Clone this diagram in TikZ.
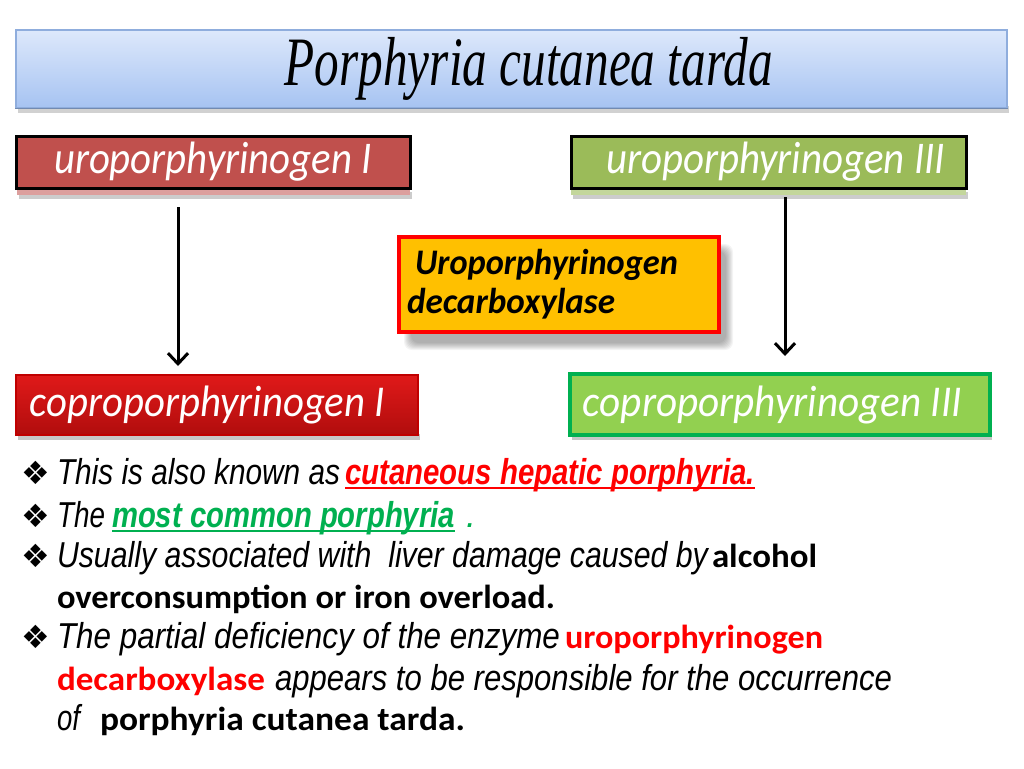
\documentclass[tikz,border=0pt]{standalone}
\usepackage{fontspec}
\usepackage{graphicx}
\usetikzlibrary{arrows.meta,shadows,calc}
\setmainfont{Liberation Sans}
\newfontfamily\carl{Carlito}
\newfontfamily\ars{Liberation Sans}
\newfontfamily\djv{DejaVu Sans}
\newfontfamily\tnr{Liberation Serif}
\definecolor{uroI}{HTML}{C0504D}
\definecolor{uroIII}{HTML}{9BBB59}
\definecolor{enz}{HTML}{FFC000}
\definecolor{brred}{HTML}{FF0000}
\definecolor{cpgreen}{HTML}{92D050}
\definecolor{dkgreen}{HTML}{00B050}
\definecolor{cpred}{HTML}{C00000}
\definecolor{titletop}{HTML}{DDE8FB}
\definecolor{titlebot}{HTML}{A6C3F2}
\definecolor{titleline}{HTML}{8FADDD}
\newcommand\fitw[2]{\resizebox{#1}{\height}{#2}}
\newcommand\bodyf{\ars\itshape\fontsize{27}{30}\selectfont}
\newcommand\bodybf{\ars\bfseries\itshape\fontsize{27}{30}\selectfont}
\newcommand\boldf{\carl\bfseries\fontsize{25}{29}\selectfont}
\begin{document}
\begin{tikzpicture}[x=0.75pt,y=-0.75pt,
  txt/.style={anchor=base west, inner sep=0pt, outer sep=0pt},
  bul/.style={anchor=base west, inner sep=0pt, font=\djv\fontsize{24}{26}\selectfont},
  hbox/.style={draw=black, line width=2.25pt, inner sep=0pt, text=white,
    font=\carl\itshape\fontsize{34}{38}\selectfont},
  cbox/.style={line width=2pt, inner sep=0pt, text=white,
    font=\carl\itshape\fontsize{33}{38}\selectfont},
  flow/.style={line width=2.25pt, -{Straight Barb[length=8pt,width=15pt,line width=2.25pt]}},
  uline/.style={line width=2pt}
]
\useasboundingbox (0,0) rectangle (1024,768);
\fill[white] (0,0) rectangle (1024,768);

% title bar
\fill[black!18] (18,106) rectangle (1009,113);
\node[draw=titleline, line width=0.8pt, top color=titletop, bottom color=titlebot,
  minimum width=743.25pt, minimum height=58.5pt, inner sep=0pt,
  font=\tnr\itshape\fontsize{52}{56}\selectfont] (title) at (511.5,69)
  {\hspace*{26pt}\fitw{366pt}{Porphyria cutanea tarda}};
\draw[titleline!80!black, line width=1pt] (title.south west) -- (title.south east);

% strips below top boxes
\fill[black!20] (19,192) rectangle (412,199);
\fill[uroI!55] (17,186) rectangle (410,195);
\fill[black!20] (573,192) rectangle (968,199);
\fill[uroIII!60] (571,186) rectangle (966,195);

% top boxes
\node[hbox, fill=uroI, minimum width=295.5pt, minimum height=39pt] (uro1) at (213,162)
  {\fitw{238.5pt}{uroporphyrinogen I}};
\node[hbox, fill=uroIII, minimum width=296.25pt, minimum height=39pt] (uro3) at (768.5,162)
  {\hspace*{10.5pt}\fitw{254.25pt}{uroporphyrinogen III}};

% enzyme box soft shadow
\foreach \g in {0,2,...,14}{
  \fill[black, opacity=0.045, rounded corners=6pt]
    ({404+\g/2},{244+\g/2}) rectangle ({733-\g/2},{350-\g/2});
}
\node[draw=brred, line width=2.5pt, fill=enz, minimum width=240pt, minimum height=71.25pt,
  text width=228pt, inner xsep=6pt, inner ysep=0pt, align=left,
  font=\carl\bfseries\itshape\fontsize{27}{29.25}\selectfont] (enzyme) at (559,284.5)
  {\hspace*{6pt}\fitw{197.25pt}{Uroporphyrinogen}\\\fitw{156pt}{decarboxylase}};

% bottom boxes
\fill[black!22] (18,434) rectangle (420,440);
\node[cbox, draw=cpred, top color=cpred!55!red!90!white, bottom color=cpred!90!black!95,
  minimum width=301.5pt, minimum height=45pt] (copro1) at (217,405)
  {\fitw{266.25pt}{coproporphyrinogen I}\hspace*{14.25pt}};
\fill[black!22] (572,434) rectangle (992,440);
\node[cbox, draw=dkgreen, line width=2.5pt, fill=cpgreen,
  minimum width=315pt, minimum height=45.75pt] (copro3) at (780,404.5)
  {\fitw{284.25pt}{coproporphyrinogen III}\hspace*{11.25pt}};

% arrows
\coordinate (a1s) at (178,207);
\coordinate (a1e) at (178,366);
\coordinate (a2s) at (785,197);
\coordinate (a2e) at (785,356);
\draw[flow] (a1s) -- (a1e);
\draw[flow] (a2s) -- (a2e);

% bullet text
\node[bul] (b1) at (21,484) {❖};
\node[txt, font=\bodyf] (t1a) at (57,484) {\fitw{212.25pt}{This is also known as}};
\node[txt, font=\bodybf, text=brred] (t1b) at (345,484) {\fitw{307.5pt}{cutaneous hepatic porphyria.}};
\draw[uline, brred] ([yshift=-3pt]t1b.base west) -- ([yshift=-3pt]t1b.base east);

\node[bul] (b2) at (21,527) {❖};
\node[txt, font=\bodyf] (t2a) at (57,527) {\fitw{36pt}{The}};
\node[txt, font=\bodybf, text=dkgreen] (t2b) at (112,527) {\fitw{257.25pt}{most common porphyria}};
\draw[uline, dkgreen] ([yshift=-3pt]t2b.base west) -- ([yshift=-3pt]t2b.base east);
\node[txt, font=\bodyf, text=dkgreen] (t2c) at (466,527) {.};

\node[bul] (b3) at (21,567) {❖};
\node[txt, font=\bodyf] (t3a) at (57,567) {\fitw{488.25pt}{Usually associated with\ \ liver damage caused by}};
\node[txt, font=\boldf] (t3b) at (712,567) {\fitw{78.75pt}{alcohol}};

\node[txt, font=\boldf] (t4a) at (57,608) {\fitw{373.5pt}{overconsumption or iron overload.}};

\node[bul] (b5) at (21,648) {❖};
\node[txt, font=\bodyf] (t5a) at (57,648) {\fitw{377.25pt}{The partial deficiency of the enzyme}};
\node[txt, font=\boldf, text=brred] (t5b) at (565,648) {\fitw{193.5pt}{uroporphyrinogen}};

\node[txt, font=\boldf, text=brred] (t6a) at (57,690) {\fitw{156pt}{decarboxylase}};
\node[txt, font=\bodyf] (t6b) at (275,690) {\fitw{462.75pt}{appears to be responsible for the occurrence}};

\node[txt, font=\bodyf] (t7a) at (57,730) {\fitw{17.25pt}{of}};
\node[txt, font=\boldf] (t7b) at (100,730) {\fitw{273.75pt}{porphyria cutanea tarda.}};
\end{tikzpicture}
\end{document}
